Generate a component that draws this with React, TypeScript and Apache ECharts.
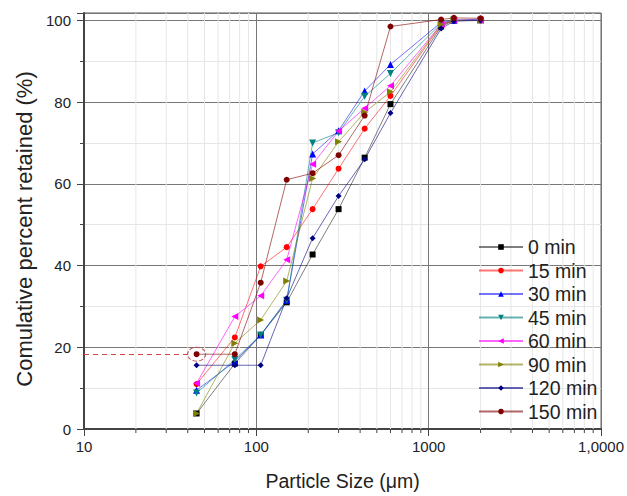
import React, { useEffect, useRef } from "react";
import * as echarts from "echarts";

// Sieve sizes (µm)
const sizes = [45, 75, 106, 150, 212, 300, 425, 600, 1180, 1400, 2000];

const seriesNames = ["0 min", "15 min", "30 min", "45 min", "60 min", "90 min", "120 min", "150 min"];

const v0 = [3.8, 16, 23, 31, 42.7, 53.8, 66.4, 79.5, 98.5, 100, 100];
const v15 = [11, 22.4, 39.8, 44.5, 53.8, 63.7, 73.5, 81.5, 98.8, 100, 100];
const v30 = [9.5, 16.5, 23, 31.5, 67.3, 73, 82.7, 89.2, 99.5, 100, 100.3];
const v45 = [8.8, 17, 23, 31.5, 70, 72.5, 81.4, 87, 99.2, 100, 100];
const v60 = [11.2, 27.5, 32.6, 41.4, 64.8, 72.9, 78.5, 84, 99, 100, 100];
const v90 = [3.8, 21, 26.7, 36.2, 61.3, 70.3, 77.5, 82.5, 99, 100, 100];
const v120 = [15.6, 15.6, 15.6, 32, 46.7, 57, 66, 77.3, 98, 99.8, 100];
const v150 = [18.3, 18.3, 35.8, 61, 62.6, 67, 76.7, 98.5, 100.2, 100.6, 100.5];

const allValues = [v0, v15, v30, v45, v60, v90, v120, v150];

const colors = ["#000000", "#FF0000", "#0000FF", "#008080", "#FF00FF", "#808000", "#000080", "#800000"];
const lineColors = [
  "rgba(0,0,0,0.5)",
  "rgba(255,0,0,0.55)",
  "rgba(0,0,255,0.55)",
  "rgba(0,128,128,0.6)",
  "rgba(255,0,255,0.6)",
  "rgba(128,128,0,0.6)",
  "rgba(0,0,128,0.6)",
  "rgba(128,0,0,0.6)",
];
const symbols = ["rect", "circle", "triangle", "triangle", "triangle", "triangle", "diamond", "circle"];
const rotations = [0, 0, 0, 180, 90, -90, 0, 0];

// minor log ticks
const minorX = [20, 30, 40, 50, 60, 70, 80, 90, 200, 300, 400, 500, 600, 700, 800, 900, 2000, 3000, 4000, 5000, 6000, 7000, 8000, 9000];
const xTickLabels: Record<string, string> = { "10": "10", "100": "100", "1000": "1000", "10000": "1,0000" };

const yMin = 0;
const yMax = 101.8;
const highlightEnd = 41;

export default function App() {
  const ref = useRef<HTMLDivElement>(null);
  useEffect(() => {
    if (!ref.current) return;
    const chart = echarts.init(ref.current, null, { renderer: "svg" });
    const font = "Liberation Sans, Arial, sans-serif";

    const lineSeries = seriesNames.map((name, i) => {
      const s: any = {
        name,
        type: "line",
        data: sizes.map((x, j) => [x, allValues[i][j]]),
        symbol: symbols[i],
        symbolSize: symbols[i] === "triangle" ? 7 : 6,
        symbolRotate: rotations[i],
        itemStyle: { color: colors[i] },
        lineStyle: { color: lineColors[i], width: 1 },
        z: 3,
      };
      if (i === 7) {
        s.markLine = {
          silent: true,
          symbol: "none",
          label: { show: false },
          lineStyle: { type: [5, 4], color: "#d04848", width: 1, opacity: 1 },
          data: [[{ coord: [10, v150[0]] }, { coord: [highlightEnd, v150[0]] }]],
        };
        s.markPoint = {
          silent: true,
          symbol: "circle",
          symbolSize: [18, 14],
          label: { show: false },
          itemStyle: { color: "rgba(0,0,0,0)", borderColor: "#c05050", borderWidth: 1, borderType: "dashed" },
          data: [{ coord: [sizes[0], v150[0]] }],
        };
      }
      return s;
    });

    const minorSeries: any = {
      type: "custom",
      silent: true,
      z: 1,
      data: minorX.map((v) => [v, 0]),
      encode: { x: 0, y: 1 },
      renderItem: (_p: any, api: any) => {
        const v = api.value(0);
        const top = api.coord([v, yMax]);
        const bot = api.coord([v, yMin]);
        return {
          type: "group",
          children: [
            { type: "line", shape: { x1: top[0], y1: top[1], x2: bot[0], y2: bot[1] }, style: { stroke: "#e6e6e6", lineWidth: 1 } },
            { type: "line", shape: { x1: bot[0], y1: bot[1], x2: bot[0], y2: bot[1] + 4 }, style: { stroke: "#444", lineWidth: 1 } },
          ],
        };
      },
    };

    chart.setOption({
      animation: false,
      backgroundColor: "#ffffff",
      textStyle: { fontFamily: font },
      grid: { left: 84, right: 21, top: 13, bottom: 64, show: true, borderColor: "#555", borderWidth: 1 },
      legend: {
        data: seriesNames,
        orient: "vertical",
        left: 473,
        top: 232,
        itemWidth: 44,
        itemHeight: 7,
        itemGap: 3.5,
        textStyle: { fontSize: 19.5, color: "#222", fontFamily: font },
      },
      xAxis: {
        type: "log",
        logBase: 10,
        min: 10,
        max: 10000,
        axisLine: { show: true, onZero: false, lineStyle: { color: "#444", width: 2 } },
        axisTick: { show: true, length: 7, lineStyle: { color: "#444" } },
        splitLine: { show: true, lineStyle: { color: "#777" } },
        axisLabel: {
          fontSize: 15,
          color: "#222",
          margin: 10,
          formatter: (v: number) => xTickLabels[String(Math.round(v))] ?? "",
        },
        name: "Particle Size (μm)",
        nameLocation: "middle",
        nameGap: 42,
        nameTextStyle: { fontSize: 19.5, color: "#222" },
      },
      yAxis: {
        type: "value",
        min: yMin,
        max: yMax,
        interval: 20,
        axisLine: { show: true, lineStyle: { color: "#444", width: 2 } },
        axisTick: { show: true, length: 7, lineStyle: { color: "#444" } },
        minorTick: { show: true, splitNumber: 2, length: 4, lineStyle: { color: "#444" } },
        splitLine: { show: true, lineStyle: { color: "#777" } },
        minorSplitLine: { show: true, lineStyle: { color: "#e6e6e6" } },
        axisLabel: {
          fontSize: 15,
          color: "#222",
          margin: 13,
          formatter: (v: number) => (Math.abs(v % 20) < 1e-6 ? String(v) : ""),
        },
        name: "Comulative percent retained (%)",
        nameLocation: "middle",
        nameGap: 46,
        nameTextStyle: { fontSize: 22, color: "#222", padding: [0, 16, 0, 0] },
      },
      series: [minorSeries, ...lineSeries],
    });
    return () => chart.dispose();
  }, []);
  return <div ref={ref} style={{ width: 627, height: 496, position: "absolute", left: 0, top: 0 }} />;
}
